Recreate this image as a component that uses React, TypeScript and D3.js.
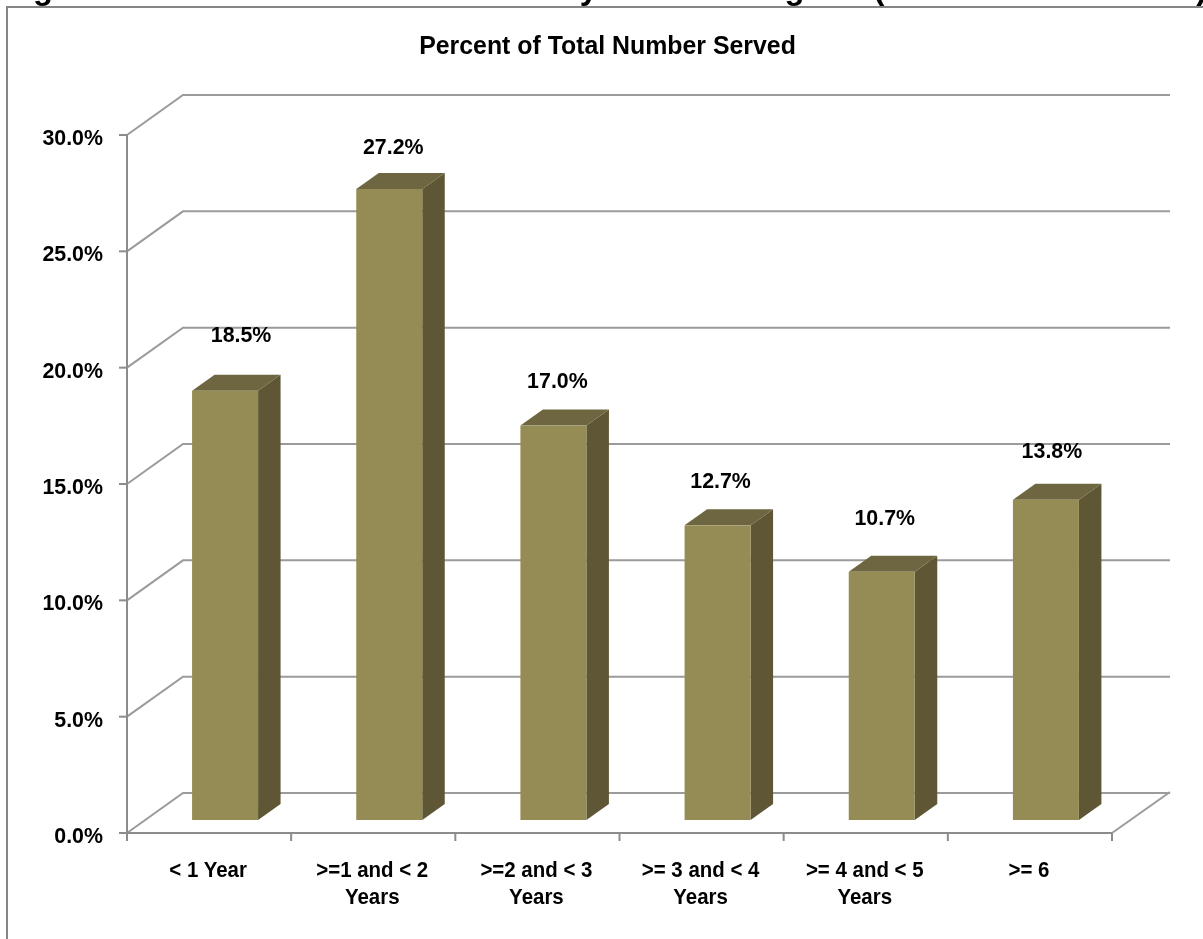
import React from "react";
import * as d3 from "d3";

const categories = ["< 1 Year", ">=1 and < 2 Years", ">=2 and < 3 Years", ">= 3 and < 4 Years", ">= 4 and < 5 Years", ">= 6"];
const categoryLines = [["< 1 Year"], [">=1 and < 2", "Years"], [">=2 and < 3", "Years"], [">= 3 and < 4", "Years"], [">= 4 and < 5", "Years"], [">= 6"]];
const percentServed = [18.5, 27.2, 17.0, 12.7, 10.7, 13.8];
const yTicks = [0, 5, 10, 15, 20, 25, 30];
const chartTitle = "Percent of Total Number Served";
const pageTitle = "Figure 5: Number of Clients Served by Time in Program (Total Clients Served)";

const labelShiftX = [32, 20, 20, 19, 19, 22];
const labelLift = [49, 35, 38, 37, 47, 42];

const FONT = "'Liberation Sans', Arial, sans-serif";
const GRID = "#9b9b9b";
const AXIS = "#8c8c8c";
const WALL_DX = 56;
const WALL_DY = -40;
const BAR_DX = 22.5;
const BAR_DY = -16;
const FLOOR_X = 16;
const FLOOR_Y = -13;
const BAR_W = 66;

function Squeezed({ x, y, size, squeeze, anchor, children }: { x: number; y: number; size: number; squeeze: number; anchor: string; children: React.ReactNode }) {
  return (
    <text transform={`translate(${x},${y}) scale(${squeeze},1)`} fontSize={size} textAnchor={anchor}>{children}</text>
  );
}

export default function App() {
  const y = d3.scaleLinear().domain([0, 30]).range([833, 135]);
  const barY = d3.scaleLinear().domain([0, 30]).range([833, 137]);
  const x = d3.scaleBand<string>().domain(categories).range([127, 1112]);
  const base = y(0) + FLOOR_Y;
  const tickXs = [...categories.map((c) => x(c)!), 1112];

  return (
    <svg width={1203} height={939} viewBox="0 0 1203 939" style={{ position: "absolute", left: 0, top: 0, display: "block", background: "#fff" }} fontFamily={FONT} fontWeight="bold" fill="#000">
      <defs>
        <filter id="soft" x="0" y="0" width="1" height="1" filterUnits="objectBoundingBox">
          <feGaussianBlur stdDeviation="0.45" />
        </filter>
      </defs>
      <g filter="url(#soft)">
        <rect width={1203} height={939} fill="#fff" />
        <Squeezed x={4} y={-1} size={32.7} squeeze={1} anchor="start">{pageTitle}</Squeezed>
        <path d="M7 939V7H1203" fill="none" stroke="#858585" strokeWidth={2} />
        <Squeezed x={607.5} y={54} size={25} squeeze={0.995} anchor="middle">{chartTitle}</Squeezed>

        {yTicks.map((t) => (
          <g key={t}>
            <path d={`M${127} ${y(t)}L${127 + WALL_DX} ${y(t) + WALL_DY}H1170`} fill="none" stroke={GRID} strokeWidth={2} />
            <line x1={119} x2={127} y1={y(t)} y2={y(t)} stroke={AXIS} strokeWidth={2} />
            <Squeezed x={103} y={y(t) + 10} size={23} squeeze={0.93} anchor="end">{d3.format(".1f")(t)}%</Squeezed>
          </g>
        ))}
        <line x1={1112} y1={y(0)} x2={1112 + 58} y2={y(0) + WALL_DY - 1} stroke={GRID} strokeWidth={2} />
        <line x1={127} x2={127} y1={y(30)} y2={y(0)} stroke={AXIS} strokeWidth={2} />
        <line x1={119} x2={1112} y1={y(0)} y2={y(0)} stroke={AXIS} strokeWidth={2} />
        {tickXs.map((tx, i) => (
          <line key={i} x1={tx} x2={tx} y1={y(0)} y2={y(0) + 8} stroke={AXIS} strokeWidth={2} />
        ))}

        {categories.map((c, i) => {
          const v = percentServed[i];
          const center = x(c)! + x.bandwidth() / 2;
          const left = center + FLOOR_X - BAR_W / 2;
          const right = left + BAR_W;
          const top = barY(v) + FLOOR_Y;
          return (
            <g key={c}>
              <path d={`M${right} ${top}L${right + BAR_DX} ${top + BAR_DY}V${base + BAR_DY}L${right} ${base}Z`} fill="#5e5736" />
              <path d={`M${left} ${top}L${left + BAR_DX} ${top + BAR_DY}H${right + BAR_DX}L${right} ${top}Z`} fill="#6d663f" />
              <rect x={left} y={top} width={BAR_W} height={base - top} fill="#958b54" />
              <Squeezed x={center + labelShiftX[i]} y={top - labelLift[i]} size={23} squeeze={0.93} anchor="middle">{d3.format(".1f")(v)}%</Squeezed>
              {categoryLines[i].map((line, j) => (
                <Squeezed key={j} x={center - 1} y={877 + j * 27} size={22} squeeze={0.93} anchor="middle">{line}</Squeezed>
              ))}
            </g>
          );
        })}
      </g>
    </svg>
  );
}
